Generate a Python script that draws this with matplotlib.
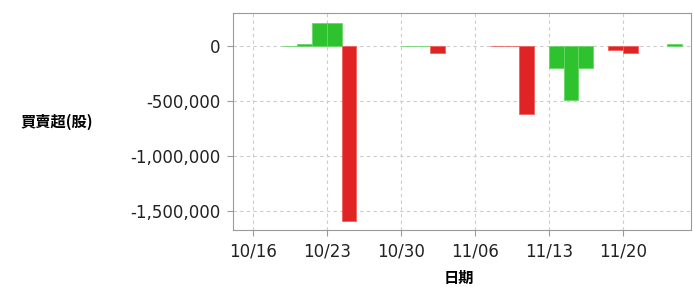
import matplotlib.pyplot as plt
from matplotlib.ticker import FuncFormatter
import numpy as np

# trading days (2017), one bar per day
dates = ['10/16', '10/17', '10/18', '10/19', '10/20',
         '10/23', '10/24', '10/25', '10/26', '10/27',
         '10/30', '10/31', '11/01', '11/02', '11/03',
         '11/06', '11/07', '11/08', '11/09', '11/10',
         '11/13', '11/14', '11/15', '11/16', '11/17',
         '11/20', '11/21', '11/22', '11/23', '11/24']
net_shares = [0, 0, -6000, 12000, 205000,
              205000, -1590000, 0, 0, 0,
              -8000, -3000, -64000, 0, 0,
              0, -4000, -4000, -621000, 0,
              -205000, -494000, -200000, 0, -40000,
              -70000, 0, 0, 16000, 0]
# G = green bar, R = red bar
side = ['G', 'G', 'G', 'G', 'G',
        'G', 'R', 'G', 'G', 'G',
        'G', 'G', 'R', 'G', 'G',
        'R', 'R', 'R', 'R', 'R',
        'G', 'G', 'G', 'G', 'R',
        'R', 'G', 'G', 'G', 'G']
tick_dates = ['10/16', '10/23', '10/30', '11/06', '11/13', '11/20']
y_ticks = [0, -500000, -1000000, -1500000]

fill = {'G': '#2ec22e', 'R': '#e02424'}
edge = {'G': '#6ad66a', 'R': '#f06060'}

fig = plt.figure(figsize=(6.93, 2.87), dpi=100)
ax = fig.add_axes([0.336, 0.199, 0.661, 0.756])

x = np.arange(len(dates))
# days with no trading balance get no bar at all
edges = [edge[s] if v != 0 else 'none' for s, v in zip(side, net_shares)]
ax.bar(x, net_shares, width=1.0, align='edge',
       color=[fill[s] for s in side], edgecolor=edges,
       linewidth=0.6, zorder=3)

ax.set_xlim(-1.35, 29.6)
ax.set_ylim(-1675000, 297000)
ax.set_xticks([dates.index(d) for d in tick_dates])
ax.set_xticklabels(tick_dates)
ax.set_yticks(y_ticks)
ax.yaxis.set_major_formatter(FuncFormatter(lambda v, p: '{:,.0f}'.format(v)))

ax.grid(True, color='#cccccc', linestyle=(0, (3, 3)), linewidth=0.8, zorder=0)
for sp in ax.spines.values():
    sp.set_color('#9a9a9a')
ax.tick_params(axis='both', colors='#9a9a9a', labelcolor='#222222',
               length=4, labelsize=12, pad=5)

cjk = ['Noto Sans CJK TC', 'DejaVu Sans']
ax.set_ylabel('買賣超(股)', rotation=0, family=cjk, fontsize=11,
              fontweight='bold', ha='center', va='center')
ax.yaxis.set_label_coords(-0.384, 0.5)
ax.set_xlabel('日期', family=cjk, fontsize=11, fontweight='bold', va='center')
ax.xaxis.set_label_coords(0.493, -0.22)

fig.savefig('out.png', dpi=100)
